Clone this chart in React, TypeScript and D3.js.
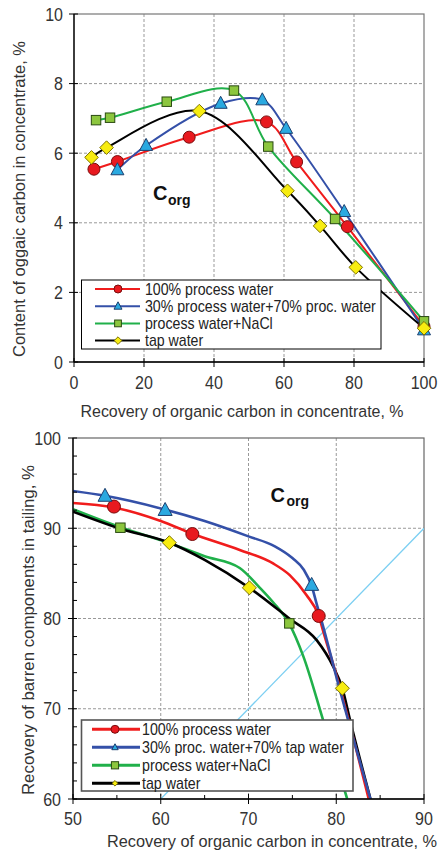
import React from 'react';
import * as d3 from 'd3';

// ---- top chart: content of organic carbon vs recovery ----
const topXTicks = [0, 20, 40, 60, 80, 100];
const topYTicks = [0, 2, 4, 6, 8, 10];

const pwRecTop = [5.7, 12.4, 32.9, 55.0, 63.6, 78.1, 100];
const pwContTop = [5.54, 5.76, 6.46, 6.9, 5.75, 3.89, 1.02];
const mixRecTop = [12.4, 20.6, 41.9, 53.8, 60.6, 77.2, 100];
const mixContTop = [5.52, 6.22, 7.43, 7.53, 6.71, 4.32, 0.92];
const naclRecTop = [6.3, 10.3, 26.5, 45.7, 55.5, 74.6, 100];
const naclContTop = [6.95, 7.02, 7.48, 7.8, 6.19, 4.11, 1.17];
const tapRecTop = [5.0, 9.3, 35.8, 61.0, 70.3, 80.5, 100];
const tapContTop = [5.88, 6.16, 7.21, 4.92, 3.91, 2.72, 0.97];

const legendTop = ['100% process water', '30% process water+70% proc. water', 'process water+NaCl', 'tap water'];

// ---- bottom chart: barren recovery vs carbon recovery ----
const botXTicks = [50, 60, 70, 80, 90];
const botXMinor = [55, 65, 75, 85];
const botYTicks = [60, 70, 80, 90, 100];
const botYMinor = [62, 64, 66, 68, 72, 74, 76, 78, 82, 84, 86, 88, 92, 94, 96, 98];

// fitted curves
const pwCurveX = [50, 54.67, 60, 63.6, 69, 72.8, 74.7, 76.6, 78.0, 78.6, 80.05, 83.7];
const pwCurveY = [92.8, 92.3, 90.8, 89.4, 87.6, 86.1, 84.8, 82.6, 80.3, 78.3, 73.6, 60];
const mixCurveX = [50, 53.65, 60, 65, 70, 73, 75, 76.3, 77.2, 77.8, 78.4, 80.05, 83.9];
const mixCurveY = [94.13, 93.6, 92.2, 90.8, 89.1, 88.0, 86.7, 85.4, 83.6, 81.5, 79.5, 73.4, 60];
const naclCurveX = [50, 55.4, 61, 65, 69, 71.3, 72.8, 74.65, 76.25, 78.5, 81.25];
const naclCurveY = [92.1, 90.1, 88.35, 86.9, 85.6, 83.4, 81.8, 79.4, 75.8, 68.75, 60];
const tapCurveX = [50, 55.4, 61, 65, 70.1, 74.65, 77.77, 79.66, 80.7, 81.57, 83.9];
const tapCurveY = [91.84, 89.95, 88.4, 86.5, 83.4, 80.0, 77.6, 74.66, 72.27, 68.75, 60];

// measured points
const pwRecBot = [54.67, 63.6, 78.0];
const pwBarBot = [92.4, 89.36, 80.28];
const mixRecBot = [53.65, 60.5, 77.2];
const mixBarBot = [93.57, 92.0, 83.7];
const naclRecBot = [55.4, 74.65];
const naclBarBot = [90.06, 79.46];
const tapRecBot = [60.98, 70.1, 80.7];
const tapBarBot = [88.4, 83.4, 72.27];

const diagX = [60, 90];
const diagY = [60, 90];

const legendBottom = ['100% process water', '30% proc. water+70% tap water', 'process water+NaCl', 'tap water'];

const styles = [
  { line: '#f01c1c', fill: '#e8191f', stroke: '#7a0d0d', shape: 'circle' },
  { line: '#3450a8', fill: '#2aa9e0', stroke: '#1d3f6e', shape: 'triangle' },
  { line: '#20b04a', fill: '#8cc63e', stroke: '#2a4a12', shape: 'square' },
  { line: '#000000', fill: '#f7ec10', stroke: '#7d7300', shape: 'diamond' },
];

const FONT = '"Liberation Sans", Arial, sans-serif';

const Txt = ({ x, y, size, sx = 1, anchor = 'start', rotate = 0, weight = 'normal', fill = '#333', children }: any) => (
  <text
    transform={`translate(${x},${y}) rotate(${rotate}) scale(${sx},1)`}
    fontSize={size}
    fontFamily={FONT}
    fontWeight={weight}
    textAnchor={anchor}
    fill={fill}
  >
    {children}
  </text>
);

const Marker = ({ shape, x, y, s, fill, stroke }: any) => {
  if (shape === 'circle') {
    return <circle cx={x} cy={y} r={s} fill={fill} stroke={stroke} strokeWidth={1} />;
  }
  if (shape === 'triangle') {
    const pts = [[x, y - s * 1.1], [x + s, y + s * 0.75], [x - s, y + s * 0.75]];
    return <polygon points={pts.map((p) => p.join(',')).join(' ')} fill={fill} stroke={stroke} strokeWidth={1} />;
  }
  if (shape === 'square') {
    const h = s * 0.75;
    return <rect x={x - h} y={y - h} width={2 * h} height={2 * h} fill={fill} stroke={stroke} strokeWidth={1} />;
  }
  const pts = [[x, y - s], [x + s, y], [x, y + s], [x - s, y]];
  return <polygon points={pts.map((p) => p.join(',')).join(' ')} fill={fill} stroke={stroke} strokeWidth={1} />;
};

const TopChart = () => {
  const L = 74, R = 424, T = 14, B = 362;
  const x = d3.scaleLinear().domain([0, 100]).range([L, R]);
  const y = d3.scaleLinear().domain([0, 10]).range([B, T]);
  const line = d3.line<number[]>()
    .x((d) => x(d[0]))
    .y((d) => y(d[1]))
    .curve(d3.curveCatmullRom.alpha(0.5));

  const sets = [
    [pwRecTop, pwContTop],
    [mixRecTop, mixContTop],
    [naclRecTop, naclContTop],
    [tapRecTop, tapContTop],
  ];
  const sizes = [6, 6.5, 6.3, 6.8];

  return (
    <g>
      <defs>
        <clipPath id="clipTop">
          <rect x={L} y={T} width={R - L} height={B - T} />
        </clipPath>
      </defs>
      {/* grid */}
      {topXTicks.slice(1, -1).map((t) => (
        <line key={`gx${t}`} x1={x(t)} x2={x(t)} y1={T} y2={B} stroke="#999" strokeDasharray="3,2" />
      ))}
      {topYTicks.slice(1, -1).map((t) => (
        <line key={`gy${t}`} x1={L} x2={R} y1={y(t)} y2={y(t)} stroke="#999" strokeDasharray="3,2" />
      ))}
      <rect x={L} y={T} width={R - L} height={B - T} fill="none" stroke="#777" strokeWidth={1.2} />

      {/* curves */}
      <g clipPath="url(#clipTop)">
        {sets.map(([xs, ys], i) => (
          <path key={`l${i}`} d={line(xs.map((v, j) => [v, ys[j]])) || ''} fill="none" stroke={styles[i].line} strokeWidth={2} />
        ))}
      </g>
      {sets.map(([xs, ys], i) =>
        xs.map((v, j) => (
          <Marker key={`m${i}-${j}`} shape={styles[i].shape} x={x(v)} y={y(ys[j])} s={sizes[i]} fill={styles[i].fill} stroke={styles[i].stroke} />
        )),
      )}

      {/* axes */}
      <line x1={L} x2={L} y1={T} y2={B} stroke="#000" strokeWidth={1.3} />
      <line x1={L} x2={R} y1={B} y2={B} stroke="#000" strokeWidth={1.3} />
      {topYTicks.map((t) => (
        <g key={`ty${t}`}>
          <line x1={L - 5} x2={L + 4} y1={y(t)} y2={y(t)} stroke="#000" />
          <Txt x={63} y={y(t) + 6.5} size={18} sx={0.89} anchor="end">{t}</Txt>
        </g>
      ))}
      {topXTicks.map((t) => (
        <g key={`tx${t}`}>
          <line x1={x(t)} x2={x(t)} y1={B - 4} y2={B + 5} stroke="#000" />
          <Txt x={x(t)} y={388.5} size={18} sx={0.89} anchor="middle">{t}</Txt>
        </g>
      ))}

      <Txt x={242} y={416.7} size={17} sx={0.94} anchor="middle">Recovery of organic carbon in concentrate, %</Txt>
      <Txt x={25} y={199} size={17} sx={0.97} anchor="middle" rotate={-90}>Content of oggaic carbon in concentrate, %</Txt>

      {/* C_org label */}
      <Txt x={153} y={200} size={20} weight="bold" fill="#111">C</Txt>
      <Txt x={168} y={204.5} size={14} weight="bold" fill="#111">org</Txt>

      {/* legend */}
      <rect x={81.5} y={280} width={299.5} height={69} fill="#fff" stroke="#000" strokeWidth={1} />
      {legendTop.map((name, i) => {
        const ly = 289 + i * 17.2;
        const ms = [4, 4, 4.5, 3.8][i];
        return (
          <g key={`lg${i}`}>
            <line x1={95} x2={140} y1={ly} y2={ly} stroke={styles[i].line} strokeWidth={2} />
            <Marker shape={styles[i].shape} x={118} y={ly} s={ms} fill={styles[i].fill} stroke={styles[i].stroke} />
            <Txt x={145} y={ly + 5.6} size={16} sx={0.885} fill="#222">{name}</Txt>
          </g>
        );
      })}
    </g>
  );
};

const BottomChart = () => {
  const L = 73, R = 424, T = 438, B = 799;
  const x = d3.scaleLinear().domain([50, 90]).range([L, R]);
  const y = d3.scaleLinear().domain([60, 100]).range([B, T]);
  const line = d3.line<number[]>()
    .x((d) => x(d[0]))
    .y((d) => y(d[1]))
    .curve(d3.curveMonotoneX);
  const straight = d3.line<number[]>().x((d) => x(d[0])).y((d) => y(d[1]));

  const curves = [
    [pwCurveX, pwCurveY],
    [mixCurveX, mixCurveY],
    [naclCurveX, naclCurveY],
    [tapCurveX, tapCurveY],
  ];
  const points = [
    [pwRecBot, pwBarBot],
    [mixRecBot, mixBarBot],
    [naclRecBot, naclBarBot],
    [tapRecBot, tapBarBot],
  ];
  const sizes = [6.5, 7, 6.3, 7];
  const order = [2, 3, 0, 1];

  return (
    <g>
      <defs>
        <clipPath id="clipBot">
          <rect x={L} y={T} width={R - L} height={B - T} />
        </clipPath>
      </defs>
      {botXTicks.slice(1, -1).map((t) => (
        <line key={`gx${t}`} x1={x(t)} x2={x(t)} y1={T} y2={B} stroke="#999" strokeDasharray="3,2" />
      ))}
      {botYTicks.slice(1, -1).map((t) => (
        <line key={`gy${t}`} x1={L} x2={R} y1={y(t)} y2={y(t)} stroke="#999" strokeDasharray="3,2" />
      ))}
      <rect x={L} y={T} width={R - L} height={B - T} fill="none" stroke="#666" strokeWidth={1.2} />

      <g clipPath="url(#clipBot)">
        <path d={straight(diagX.map((v, j) => [v, diagY[j]])) || ''} fill="none" stroke="#7ccff2" strokeWidth={1.3} />
        {order.map((i) => (
          <path key={`l${i}`} d={line(curves[i][0].map((v, j) => [v, curves[i][1][j]])) || ''} fill="none" stroke={styles[i].line} strokeWidth={2.6} />
        ))}
      </g>
      {points.map(([xs, ys], i) =>
        xs.map((v, j) => (
          <Marker key={`m${i}-${j}`} shape={styles[i].shape} x={x(v)} y={y(ys[j])} s={sizes[i]} fill={styles[i].fill} stroke={styles[i].stroke} />
        )),
      )}

      <line x1={L} x2={L} y1={T} y2={B} stroke="#000" strokeWidth={1.3} />
      <line x1={L} x2={R} y1={B} y2={B} stroke="#000" strokeWidth={1.3} />
      {botYTicks.map((t) => (
        <g key={`ty${t}`}>
          <line x1={L - 5} x2={L + 4} y1={y(t)} y2={y(t)} stroke="#000" />
          <Txt x={61} y={y(t) + 6.5} size={18} sx={0.89} anchor="end">{t}</Txt>
        </g>
      ))}
      {botYMinor.map((t) => (
        <line key={`my${t}`} x1={L} x2={L + 4} y1={y(t)} y2={y(t)} stroke="#000" />
      ))}
      {botXTicks.map((t) => (
        <g key={`tx${t}`}>
          <line x1={x(t)} x2={x(t)} y1={B - 5} y2={B + 5} stroke="#000" />
          <Txt x={x(t)} y={825} size={18} sx={0.89} anchor="middle">{t}</Txt>
        </g>
      ))}
      {botXMinor.map((t) => (
        <line key={`mx${t}`} x1={x(t)} x2={x(t)} y1={B - 4} y2={B} stroke="#000" />
      ))}

      <Txt x={272} y={846.5} size={17} sx={0.96} anchor="middle">Recovery of organic carbon in concentrate, %</Txt>
      <Txt x={34} y={630} size={17} sx={0.99} anchor="middle" rotate={-90}>Recovery of barren components in tailing, %</Txt>

      <Txt x={270.5} y={501.5} size={20} weight="bold" fill="#111">C</Txt>
      <Txt x={286.5} y={506} size={14} weight="bold" fill="#111">org</Txt>

      <rect x={81.5} y={720} width={271.5} height={71} fill="#fff" stroke="#555" strokeWidth={1.6} />
      {legendBottom.map((name, i) => {
        const ly = 729.3 + i * 18;
        const ms = [4, 3.2, 4.8, 2.8][i];
        return (
          <g key={`lg${i}`}>
            <line x1={92} x2={140} y1={ly} y2={ly} stroke={styles[i].line} strokeWidth={3} />
            <Marker shape={styles[i].shape} x={115} y={ly} s={ms} fill={styles[i].fill} stroke={styles[i].stroke} />
            <Txt x={142} y={ly + 5.6} size={16} sx={0.89} fill="#222">{name}</Txt>
          </g>
        );
      })}
    </g>
  );
};

export default function App() {
  return (
    <svg
      width={438}
      height={854}
      viewBox="0 0 438 854"
      style={{ position: 'absolute', left: 0, top: 0, background: '#fff' }}
    >
      <rect x={0} y={0} width={438} height={854} fill="#fff" />
      <TopChart />
      <BottomChart />
    </svg>
  );
}
